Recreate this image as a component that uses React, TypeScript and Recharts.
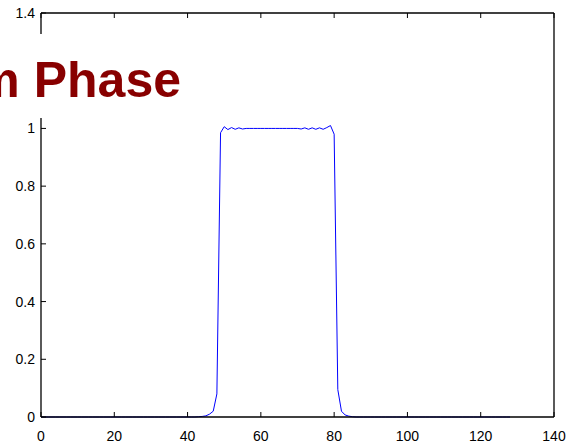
import { LineChart, Line, XAxis, YAxis } from 'recharts';

// sample index 0..128
const samples: number[] = [
  0, 0, 0, 0, 0, 0, 0, 0, 0, 0,
  0, 0, 0, 0, 0, 0, 0, 0, 0, 0,
  0, 0, 0, 0, 0, 0, 0, 0, 0, 0,
  0, 0, 0, 0, 0, 0, 0, 0, 0, 0,
  0, 0, 0, 0.001, 0.002, 0.004, 0.01, 0.02, 0.08, 0.985,
  1.006, 0.996, 1.003, 0.997, 1.002, 0.998, 1, 1, 1, 1,
  1, 1, 1, 1, 1, 1, 1, 1, 1, 1,
  1, 0.998, 1.002, 0.997, 1.002, 0.997, 1.002, 0.997, 1.003, 1.01,
  0.98, 0.095, 0.02, 0.007, 0.003, 0.001, 0, 0, 0, 0,
  0, 0, 0, 0, 0, 0, 0, 0, 0, 0,
  0, 0, 0, 0, 0, 0, 0, 0, 0, 0,
  0, 0, 0, 0, 0, 0, 0, 0, 0, 0,
  0, 0, 0, 0, 0, 0, 0, 0, 0,
];

const xTicks = [0, 20, 40, 60, 80, 100, 120, 140];
const yTicks = [0, 0.2, 0.4, 0.6, 0.8, 1, 1.2, 1.4];
const title = 'Minimum Phase';

const data = samples.map((v, i) => ({ n: i, v }));

const FONT = '"Liberation Sans", Arial, sans-serif';
const TICK = 5;
const axisLine = { stroke: '#000', strokeWidth: 1.3 };

// MATLAB style ticks: marks point into the plot box
const BottomTick = (props: any) => {
  const { x, y, payload } = props;
  const axisY = y - 15;
  return (
    <g>
      <line x1={x} y1={axisY} x2={x} y2={axisY - TICK} stroke="#000" />
      <text x={x} y={y + 9} textAnchor="middle" fill="#000" fontFamily={FONT} fontSize={14}>
        {payload.value}
      </text>
    </g>
  );
};

const LeftTick = (props: any) => {
  const { x, y, payload } = props;
  const axisX = x + 6;
  return (
    <g>
      <line x1={axisX} y1={y} x2={axisX + TICK} y2={y} stroke="#000" />
      <text x={x} y={y + 5} textAnchor="end" fill="#000" fontFamily={FONT} fontSize={14}>
        {payload.value}
      </text>
    </g>
  );
};

const TopTick = (props: any) => {
  const { x, y } = props;
  return <line x1={x} y1={y} x2={x} y2={y + TICK} stroke="#000" />;
};

const RightTick = (props: any) => {
  const { x, y } = props;
  return <line x1={x} y1={y} x2={x - TICK} y2={y} stroke="#000" />;
};

export default function App() {
  return (
    <div style={{ position: 'absolute', left: 0, top: 0, width: 570, height: 442, overflow: 'hidden', background: '#fff' }}>
      <LineChart width={570} height={442} data={data} margin={{ top: 12, right: 15, bottom: 0, left: 0 }}>
        <XAxis
          dataKey="n"
          type="number"
          domain={[0, 140]}
          ticks={xTicks}
          height={25}
          axisLine={axisLine}
          tickLine={false}
          tickSize={0}
          tickMargin={15}
          tick={<BottomTick />}
          interval={0}
        />
        <XAxis
          xAxisId="top"
          orientation="top"
          dataKey="n"
          type="number"
          domain={[0, 140]}
          ticks={xTicks}
          height={1}
          axisLine={axisLine}
          tickLine={false}
          tickSize={0}
          tickMargin={0}
          tick={<TopTick />}
          interval={0}
        />
        <YAxis
          type="number"
          domain={[0, 1.4]}
          ticks={yTicks}
          width={41}
          axisLine={axisLine}
          tickLine={false}
          tickSize={0}
          tickMargin={6}
          tick={<LeftTick />}
          interval={0}
        />
        <YAxis
          yAxisId="right"
          orientation="right"
          type="number"
          domain={[0, 1.4]}
          ticks={yTicks}
          width={1}
          axisLine={axisLine}
          tickLine={false}
          tickSize={0}
          tickMargin={0}
          tick={<RightTick />}
          interval={0}
        />
        <Line
          dataKey="v"
          type="linear"
          stroke="#0000ff"
          strokeWidth={1}
          dot={false}
          isAnimationActive={false}
        />
      </LineChart>
      <svg width={570} height={442} style={{ position: 'absolute', left: 0, top: 0, pointerEvents: 'none' }}>
        <rect x={0} y={34} width={188} height={84} fill="#fff" />
        <text
          x={181}
          y={97}
          textAnchor="end"
          fill="#880000"
          style={{ fontFamily: FONT, fontSize: 50, fontWeight: 'bold' }}
        >
          {title}
        </text>
      </svg>
    </div>
  );
}
